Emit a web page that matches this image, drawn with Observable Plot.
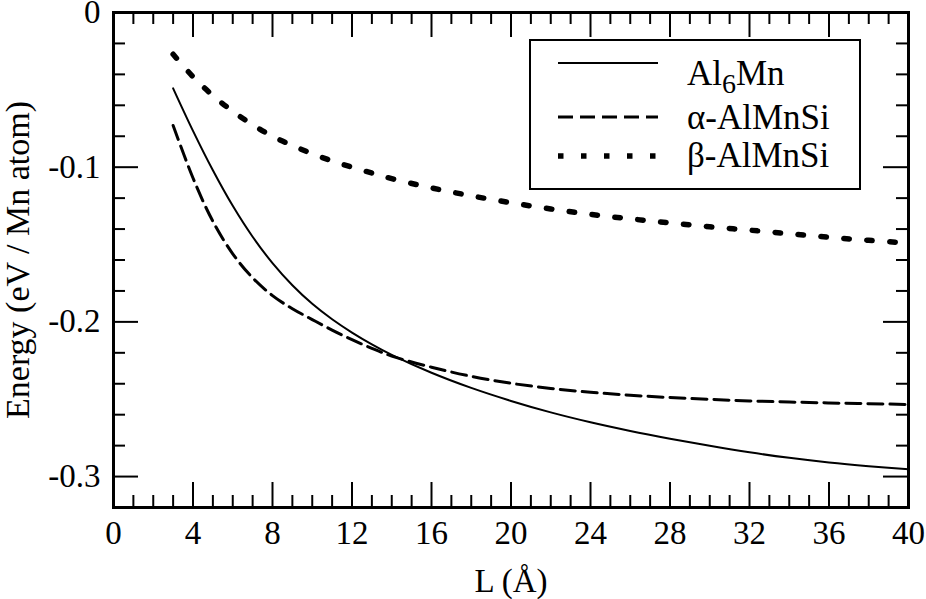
<!DOCTYPE html>
<html><head><meta charset="utf-8">
<script src="https://cdn.jsdelivr.net/npm/d3@7"></script>
<script src="https://cdn.jsdelivr.net/npm/@observablehq/plot@0.6"></script>
<style>body{margin:0;background:#fff} svg{display:block}</style>
</head><body><div id="chart"></div>
<script>
const L = [3,4,5,6,7,8,9,10,11,12,13,14,16,18,20,22,24,26,28,30,32,34,36,38,40];
const al6mn = [-0.049,-0.0765,-0.102,-0.125,-0.145,-0.162,-0.1763,-0.1883,-0.1983,-0.2069,-0.2145,-0.2213,-0.2329,-0.2427,-0.2511,-0.2585,-0.2649,-0.2705,-0.2755,-0.2801,-0.2843,-0.2879,-0.2909,-0.2933,-0.2953];
const alphaAlMnSi = [-0.073,-0.107,-0.135,-0.156,-0.1715,-0.183,-0.1915,-0.1985,-0.2053,-0.2115,-0.2171,-0.2221,-0.2293,-0.2352,-0.2397,-0.2430,-0.2455,-0.2474,-0.2489,-0.2501,-0.2511,-0.2518,-0.2524,-0.2529,-0.2534];
const betaAlMnSi = [-0.027,-0.0415,-0.0537,-0.0639,-0.0726,-0.080,-0.086,-0.0913,-0.096,-0.100,-0.1038,-0.1074,-0.1134,-0.1185,-0.123,-0.127,-0.1305,-0.1334,-0.136,-0.1385,-0.1407,-0.143,-0.1453,-0.1473,-0.149];
const seriesNames = ["Al6Mn", "α-AlMnSi", "β-AlMnSi"];
const xMajorTicks = [0,4,8,12,16,20,24,28,32,36,40];
const xMinorTicks = [1,2,3,5,6,7,9,10,11,13,14,15,17,18,19,21,22,23,25,26,27,29,30,31,33,34,35,37,38,39];
const yMajorTicks = [-0.3,-0.2,-0.1,0];
const yMinorTicks = [-0.28,-0.26,-0.24,-0.22,-0.18,-0.16,-0.14,-0.12,-0.08,-0.06,-0.04,-0.02];

const W = 926, H = 599, mL = 113, mR = 18, mT = 12, mB = 92;
const pw = W - mL - mR, ph = H - mT - mB;
const rows = (ys) => L.map((x, i) => ({x, y: ys[i]}));
const styles = [
  {strokeWidth: 2},
  {strokeWidth: 3, strokeDasharray: "15,7"},
  {strokeWidth: 5.5, strokeDasharray: "5.5,17.5"}
];
const FONT = "'Liberation Serif', 'Times New Roman', serif";

const plot = Plot.plot({
  width: W, height: H,
  marginLeft: mL, marginRight: mR, marginTop: mT, marginBottom: mB,
  style: {fontFamily: FONT, fontSize: "33px", background: "#fff", color: "#000", overflow: "visible"},
  x: {domain: [0, 40]},
  y: {domain: [-0.32, 0]},
  marks: [
    Plot.line(rows(al6mn), {x: "x", y: "y", curve: "catmull-rom", stroke: "#000", ...styles[0]}),
    Plot.line(rows(alphaAlMnSi), {x: "x", y: "y", curve: "catmull-rom", stroke: "#000", ...styles[1]}),
    Plot.line(rows(betaAlMnSi), {x: "x", y: "y", curve: "catmull-rom", stroke: "#000", ...styles[2]}),
    // inward ticks, bottom and top
    Plot.tickX(xMajorTicks, {x: d => d, insetTop: ph - 25, strokeWidth: 2}),
    Plot.tickX(xMinorTicks, {x: d => d, insetTop: ph - 12, strokeWidth: 2}),
    Plot.tickX(xMajorTicks, {x: d => d, insetBottom: ph - 25, strokeWidth: 2}),
    Plot.tickX(xMinorTicks, {x: d => d, insetBottom: ph - 12, strokeWidth: 2}),
    // inward ticks, left and right
    Plot.tickY(yMajorTicks, {y: d => d, insetRight: pw - 25, strokeWidth: 2}),
    Plot.tickY(yMinorTicks, {y: d => d, insetRight: pw - 12, strokeWidth: 2}),
    Plot.tickY(yMajorTicks, {y: d => d, insetLeft: pw - 25, strokeWidth: 2}),
    Plot.tickY(yMinorTicks, {y: d => d, insetLeft: pw - 12, strokeWidth: 2}),
    Plot.axisX({ticks: xMajorTicks, tickSize: 0, tickPadding: 13, label: null, fontSize: 33, fontFamily: FONT, tickFormat: d => String(d)}),
    Plot.axisY({ticks: yMajorTicks, tickSize: 0, tickPadding: 13, label: null, fontSize: 33, fontFamily: FONT, tickFormat: d => String(d)}),
    Plot.frame({stroke: "#000", strokeWidth: 3}),
    Plot.text(["L (Å)"], {frameAnchor: "bottom", dy: 74, textAnchor: "middle", lineAnchor: "middle", text: d => d, fontSize: 33, fontFamily: FONT, fill: "#000"}),
    Plot.text(["Energy (eV / Mn atom)"], {frameAnchor: "left", dx: -95, rotate: -90, textAnchor: "middle", lineAnchor: "middle", text: d => d, fontSize: 34, fontFamily: FONT, fill: "#000"})
  ]
});
document.getElementById("chart").appendChild(plot);

// Legend inside the frame
const svg = d3.select(plot);
const g = svg.append("g").attr("font-family", FONT).attr("font-size", 35).attr("fill", "#000").attr("text-anchor", "start");
g.append("rect").attr("x", 530).attr("y", 40).attr("width", 330).attr("height", 149)
  .attr("fill", "#fff").attr("stroke", "#000").attr("stroke-width", 2);
const lineYs = [63, 117, 156];
const textYs = [85, 129, 167];
seriesNames.forEach((name, i) => {
  const ln = g.append("line").attr("x1", 558).attr("x2", 658).attr("y1", lineYs[i]).attr("y2", lineYs[i])
    .attr("stroke", "#000").attr("stroke-width", styles[i].strokeWidth);
  if (styles[i].strokeDasharray) ln.attr("stroke-dasharray", styles[i].strokeDasharray);
  const t = g.append("text").attr("x", 687).attr("y", textYs[i]).attr("text-anchor", "start");
  if (i === 0) {
    t.append("tspan").text("Al");
    t.append("tspan").attr("dy", 8).attr("font-size", 28).text("6");
    t.append("tspan").attr("dy", -8).text("Mn");
  } else {
    t.text(name);
  }
});
</script>
</body></html>
